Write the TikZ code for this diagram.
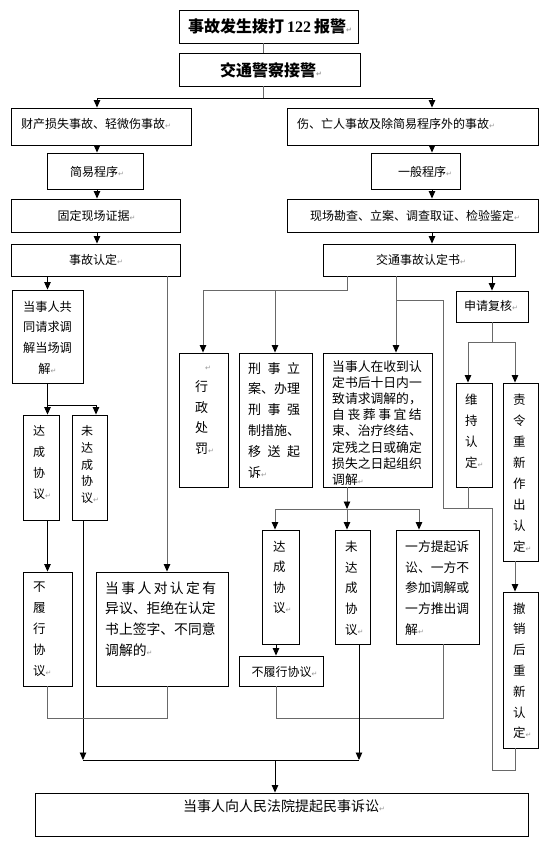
\documentclass[tikz,border=0pt]{standalone}
\usepackage{fontspec}
\usetikzlibrary{arrows.meta}
\newfontfamily\cjk{Noto Sans CJK SC}
\newfontfamily\tnr{Liberation Serif}
\newfontfamily\djv{DejaVu Sans}
\definecolor{markgray}{RGB}{150,150,150}
\definecolor{lngray}{RGB}{105,105,105}
\newcommand\rmk{{\color{markgray}\djv\fontsize{7}{7}\selectfont ↵}}
\newcommand\fz[2]{\cjk\fontsize{#1}{#2}\selectfont}
\newcommand\bx[5]{\node[bx, minimum width={(#4-#2)*1pt}, minimum height={(#5-#3)*1pt}] (#1) at ({(#2+#4)/2},{(#3+#5)/2}) {};}
\begin{document}
\begin{tikzpicture}[x=1pt,y=-1pt,
  bx/.style={draw=black,line width=0.9pt,inner sep=0pt,fill=white},
  tx/.style={inner sep=0pt,align=left},
  kline/.style={draw=black,line width=0.9pt},
  gline/.style={draw=lngray,line width=0.9pt},
  arr/.style={-{Triangle[width=6.5pt,length=7.5pt,color=black]}}]
\fill[white] (0,0) rectangle (548,841);
\useasboundingbox (0,0) rectangle (548,841);
% boxes
\bx{a}{179}{10}{358}{43}
\bx{b}{179}{53}{360}{86}
\bx{c}{11.5}{108}{191.5}{145}
\bx{d}{287}{108}{538}{145}
\bx{jy}{47}{153}{143}{189}
\bx{yb}{371.5}{153}{460}{189}
\bx{gd}{11.5}{199}{180}{232}
\bx{xc}{287}{199}{538}{232}
\bx{rd}{11.5}{244}{180}{276}
\bx{rs}{323}{244}{515.5}{276}
\bx{gt}{12}{290}{83}{383}
\bx{l1}{23}{415}{59}{520}
\bx{l2}{72}{415}{107}{520}
\bx{l3}{23}{572}{72}{686}
\bx{yy}{96}{572}{228}{686}
\bx{xz}{179}{353}{228}{487}
\bx{xs}{239}{353}{312}{487}
\bx{ts}{323}{353}{432}{487}
\bx{sq}{456}{291}{528}{322}
\bx{wc}{456}{383}{492}{487}
\bx{zl}{503}{383}{538}{561}
\bx{cx}{503}{592}{538}{748}
\bx{r1}{262}{530}{299}{644}
\bx{r2}{335}{530}{370}{644}
\bx{r3}{396}{530}{479}{644}
\bx{r4}{239}{656}{323}{686}
\bx{fin}{35}{793}{528}{836}
% texts
\node[tx,font={\fz{16}{18}\bfseries}] (at) at (270,26.5) {事故发生拨打\hspace{3pt}{\tnr\bfseries 122}\hspace{3pt}报警\rmk};
\node[tx,font={\fz{16}{18}\bfseries}] (bt) at (271,70) {交通警察接警\rmk};
\node[tx,font={\fz{12}{14}},anchor=west] (ct) at (21,124) {财产损失事故、轻微伤事故\rmk};
\node[tx,font={\fz{12}{14}},anchor=west] (dt) at (297,124) {伤、亡人事故及除简易程序外的事故\rmk};
\node[tx,font={\fz{12}{14}}] (jyt) at (97,172) {简易程序\rmk};
\node[tx,font={\fz{12}{14}}] (ybt) at (425,172) {一般程序\rmk};
\node[tx,font={\fz{12}{14}}] (gdt) at (96.5,216) {固定现场证据\rmk};
\node[tx,font={\fz{12}{14}}] (xct) at (415,216) {现场勘查、立案、调查取证、检验鉴定\rmk};
\node[tx,font={\fz{12}{14}}] (rdt) at (96,260) {事故认定\rmk};
\node[tx,font={\fz{12}{14}}] (rst) at (421,260) {交通事故认定书\rmk};
\node[tx,font={\fz{12.2}{20.6}},align=center] (gtt) at (47.5,337.5) {当事人共\\同请求调\\解当场调\\解\rmk};
\node[tx,font={\fz{12}{21}},anchor=west] (l1t) at (33,462.5) {达\\成\\协\\议\rmk};
\node[tx,font={\fz{12}{16.7}},anchor=west] (l2t) at (81,464.5) {未\\达\\成\\协\\议\rmk};
\node[tx,font={\fz{12.5}{21}},anchor=west] (l3t) at (33,629.5) {不\\履\\行\\协\\议\rmk};
\node[tx,font={\fz{13.8}{20.6}},anchor=west] (yyt) at (105,619) {\hbox to 111pt{当\hfill 事\hfill 人\hfill 对\hfill 认\hfill 定\hfill 有}\\异议、拒绝在认定\\书上签字、不同意\\调解的\rmk};
\node[tx,font={\fz{13}{20.75}},anchor=west] (xzt) at (195,410.5) {\hspace*{10pt}\rmk\\行\\政\\处\\罚\rmk};
\node[tx,font={\fz{13}{20.8}},anchor=west] (xst) at (248,420) {\hbox to 52pt{刑\hfill 事\hfill 立}\\案、办理\\\hbox to 52pt{刑\hfill 事\hfill 强}\\制措施、\\\hbox to 52pt{移\hfill 送\hfill 起}\\诉\rmk};
\node[tx,font={\fz{12.8}{16.1}},anchor=west] (tst) at (332,423) {当事人在收到认\\定书后十日内一\\致请求调解的，\\\hbox to 89.6pt{自\hfill 丧\hfill 葬\hfill 事\hfill 宜\hfill 结}\\束、治疗终结、\\定残之日或确定\\损失之日起组织\\调解\rmk};
\node[tx,font={\fz{12}{14}}] (sqt) at (491,306) {申请复核\rmk};
\node[tx,font={\fz{12.5}{21}},anchor=west] (wct) at (465,431.7) {维\\持\\认\\定\rmk};
\node[tx,font={\fz{12.5}{20.95}},anchor=west] (zlt) at (513,473.3) {责\\令\\重\\新\\作\\出\\认\\定\rmk};
\node[tx,font={\fz{12.5}{20.8}},anchor=west] (cxt) at (513,670.8) {撤\\销\\后\\重\\新\\认\\定\rmk};
\node[tx,font={\fz{12.5}{20.5}},anchor=west] (r1t) at (273,577.5) {达\\成\\协\\议\rmk};
\node[tx,font={\fz{12.5}{20.65}},anchor=west] (r2t) at (345,588) {未\\达\\成\\协\\议\rmk};
\node[tx,font={\fz{12.8}{20.6}},anchor=west] (r3t) at (405,588) {一方提起诉\\讼、一方不\\参加调解或\\一方推出调\\解\rmk};
\node[tx,font={\fz{12}{14}}] (r4t) at (284.5,671.7) {不履行协议\rmk};
\node[tx,font={\fz{14}{16}}] (fint) at (284,806.4) {当事人向人民法院提起民事诉讼\rmk};
% branch coordinates
\coordinate (bs) at (263,98);
\coordinate (sl) at (97,98);
\coordinate (sr) at (432,98);
\coordinate (gs1) at (47.5,405);
\coordinate (gs2) at (96,405);
\coordinate (lb1) at (47,718);
\coordinate (lb2) at (167,718);
\coordinate (bl) at (83,760);
\coordinate (br) at (359,760);
\coordinate (bm) at (275,760);
\coordinate (rk) at (347,290);
\coordinate (rx1) at (203,290);
\coordinate (rx2) at (275,290);
\coordinate (lp0) at (396,300);
\coordinate (lp1) at (443,300);
\coordinate (lp2) at (443,508);
\coordinate (lp3) at (492,508);
\coordinate (lp4) at (492,770);
\coordinate (lp5) at (515.5,770);
\coordinate (wd) at (468,508);
\coordinate (sqs) at (492,342);
\coordinate (sq1) at (468,342);
\coordinate (sq2) at (515,342);
\coordinate (ts0) at (347,509);
\coordinate (ts1) at (275,509);
\coordinate (ts3) at (419,509);
\coordinate (rb1) at (276,718);
\coordinate (rb2) at (443,718);
% connectors
\draw[gline] (a.south -| bs) -- (b.north -| bs);
\draw[gline] (b.south -| bs) -- (bs);
\draw[kline] (sl) -- (sr);
\draw[kline,arr] (sl) -- (c.north -| sl);
\draw[kline,arr] (sr) -- (d.north -| sr);
\draw[kline,arr] (c.south -| sl) -- (jy.north -| sl);
\draw[kline,arr] (jy.south -| sl) -- (gd.north -| sl);
\draw[kline,arr] (gd.south -| sl) -- (rd.north -| sl);
\draw[kline,arr] (d.south -| sr) -- (yb.north -| sr);
\draw[kline,arr] (yb.south -| sr) -- (xc.north -| sr);
\draw[kline,arr] (xc.south -| sr) -- (rs.north -| sr);
% left branch
\draw[kline,arr] (rd.south -| gs1) -- (gt.north -| gs1);
\draw[gline,arr] (rd.south -| lb2) -- (yy.north -| lb2) ;
\draw[kline] (gt.south -| gs1) -- (gs1) -- (gs2);
\draw[kline,arr] (gs1) -- (l1.north -| gs1);
\draw[kline,arr] (gs2) -- (l2.north -| gs2);
\draw[kline,arr] (l1.south -| gs1) -- (l3.north -| gs1);
\draw[kline,arr] (l2.south -| bl) -- (bl);
\draw[gline] (l3.south -| lb1) -- (lb1) -- (lb2) -- (yy.south -| lb2);
% bottom
\draw[kline] (bl) -- (br);
\draw[kline,arr] (bm) -- (fin.north -| bm);
% right branch
\draw[gline] (rs.south -| rk) -- (rk) -- (rx1);
\draw[gline,arr] (rx1) -- (xz.north -| rx1);
\draw[gline,arr] (rx2) -- (xs.north -| rx2);
\draw[gline,arr] (rs.south -| lp0) -- (ts.north -| lp0);
\draw[gline] (lp0) -- (lp1) -- (lp2) -- (lp3) -- (lp4) -- (lp5) -- (cx.south -| lp5);
\draw[gline] (wc.south -| wd) -- (wd);
\draw[kline,arr] (rs.south -| sqs) -- (sq.north -| sqs);
\draw[gline] (sq.south -| sqs) -- (sqs);
\draw[gline] (sq1) -- (sq2);
\draw[gline,arr] (sq1) -- (wc.north -| sq1);
\draw[gline,arr] (sq2) -- (zl.north -| sq2);
\draw[gline,arr] (zl.south -| sq2) -- (cx.north -| sq2);
\draw[gline,arr] (ts.south -| ts0) -- (ts0);
\draw[gline] (ts1) -- (ts3);
\draw[gline,arr] (ts1) -- (r1.north -| ts1);
\draw[gline,arr] (ts0) -- (r2.north -| ts0);
\draw[gline,arr] (ts3) -- (r3.north -| ts3);
\draw[kline,arr] (r1.south -| rb1) -- (r4.north -| rb1);
\draw[gline] (r4.south -| rb1) -- (rb1) -- (rb2) -- (r3.south -| rb2);
\draw[kline,arr] (r2.south -| br) -- (br);
\end{tikzpicture}
\end{document}
